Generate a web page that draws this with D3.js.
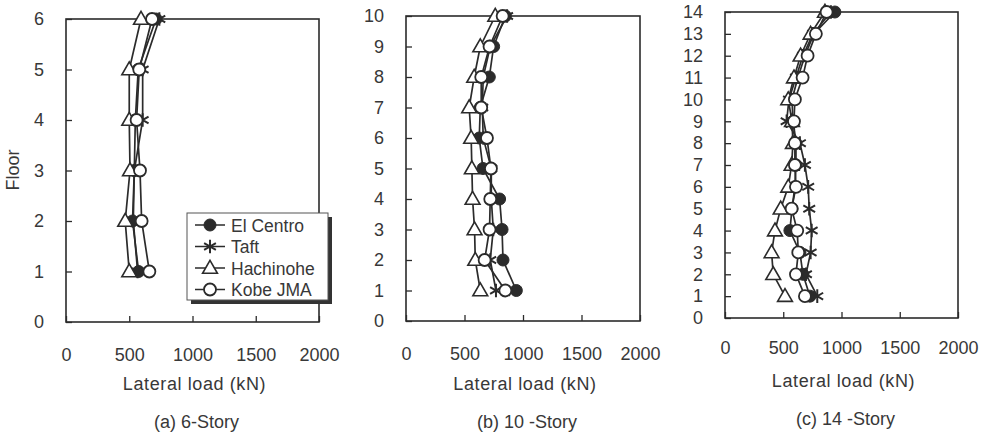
<!DOCTYPE html>
<html>
<head>
<meta charset="utf-8">
<script src="https://cdn.jsdelivr.net/npm/d3@7"></script>
<style>
  body { margin: 0; background: #fff; }
  text { font-family: "Liberation Sans", Arial, sans-serif; fill: #383838; }
</style>
</head>
<body>
<div id="chart"></div>
<script>
// floors and lateral loads (kN)
const floors6 = [1, 2, 3, 4, 5, 6];
const floors10 = [1, 2, 3, 4, 5, 6, 7, 8, 9, 10];
const floors14 = [1, 2, 3, 4, 5, 6, 7, 8, 9, 10, 11, 12, 13, 14];

const a_elCentro  = [574, 526, 540, 548, 571, 712];
const a_taft      = [566, 532, 540, 606, 606, 738];
const a_hachinohe = [500, 468, 506, 500, 500, 593];
const a_kobe      = [659, 598, 585, 558, 579, 680];

const b_elCentro  = [943, 829, 821, 800, 658, 626, 635, 712, 749, 849];
const b_taft      = [769, 720, 746, 729, 729, 660, 652, 660, 720, 864];
const b_hachinohe = [635, 592, 586, 569, 563, 557, 540, 583, 635, 763];
const b_kobe      = [849, 672, 714, 720, 726, 692, 643, 643, 714, 826];

const c_elCentro  = [729, 669, 643, 557, 575, 600, 609, 609, 583, 575, 626, 686, 763, 943];
const c_taft      = [792, 695, 735, 744, 723, 714, 686, 643, 529, 549, 609, 669, 755, 909];
const c_hachinohe = [515, 414, 400, 429, 478, 543, 572, 583, 575, 543, 592, 649, 735, 858];
const c_kobe      = [686, 609, 629, 620, 572, 609, 600, 600, 592, 600, 666, 709, 780, 872];

const seriesNames = ["El Centro", "Taft", "Hachinohe", "Kobe JMA"];
const xTicks = [0, 500, 1000, 1500, 2000];
const captions = ["(a) 6-Story", "(b) 10 -Story", "(c) 14 -Story"];

const ink = "#2b2b2b";
const fs = 18;

const panels = [
  {floors: floors6, series: [a_elCentro, a_taft, a_hachinohe, a_kobe], maxF: 6,
   x0: 66, x1: 319, yTop: 19, yBot: 322, labY: 0, legend: true},
  {floors: floors10, series: [b_elCentro, b_taft, b_hachinohe, b_kobe], maxF: 10,
   x0: 406, x1: 640, yTop: 16, yBot: 321, labY: 0},
  {floors: floors14, series: [c_elCentro, c_taft, c_hachinohe, c_kobe], maxF: 14,
   x0: 725, x1: 958, yTop: 12, yBot: 318, labY: -3}
];

const svg = d3.select("#chart").append("svg")
  .attr("width", 984).attr("height", 436);

function drawMarker(g, i, x, y) {
  if (i === 0) {
    g.append("circle").attr("cx", x).attr("cy", y).attr("r", 6)
      .attr("fill", ink).attr("stroke", ink).attr("stroke-width", 1);
  } else if (i === 1) {
    g.append("path").attr("transform", `translate(${x},${y})`)
      .attr("d", d3.symbol(d3.symbolAsterisk, 130)())
      .attr("fill", "none").attr("stroke", ink).attr("stroke-width", 2);
  } else if (i === 2) {
    g.append("path").attr("transform", `translate(${x},${y + 1})`)
      .attr("d", d3.symbol(d3.symbolTriangle, 95)())
      .attr("fill", "#fff").attr("stroke", ink).attr("stroke-width", 1.6);
  } else {
    g.append("circle").attr("cx", x).attr("cy", y).attr("r", 6)
      .attr("fill", "#fff").attr("stroke", ink).attr("stroke-width", 1.8);
  }
}

panels.forEach((p, pi) => {
  const g = svg.append("g");
  const x = d3.scaleLinear().domain([0, 2000]).range([p.x0, p.x1]);
  const y = d3.scaleLinear().domain([0, p.maxF]).range([p.yBot, p.yTop]);

  // frame
  g.append("rect")
    .attr("x", p.x0).attr("y", p.yTop)
    .attr("width", p.x1 - p.x0).attr("height", p.yBot - p.yTop)
    .attr("fill", "none").attr("stroke", ink).attr("stroke-width", 1.6);

  // x axis, ticks inward
  const xa = g.append("g").attr("transform", `translate(0,${p.yBot})`)
    .call(d3.axisBottom(x).tickValues(xTicks).tickFormat(d3.format("d"))
      .tickSizeInner(-6).tickSizeOuter(0).tickPadding(26 + p.labY));
  xa.select(".domain").remove();
  xa.selectAll("line").attr("stroke", ink).attr("stroke-width", 1.3);
  xa.selectAll("text").attr("font-size", fs).attr("fill", "#383838")
    .attr("font-family", "Liberation Sans, Arial, sans-serif");

  // y axis, ticks inward
  const ya = g.append("g").attr("transform", `translate(${p.x0},0)`)
    .call(d3.axisLeft(y).ticks(p.maxF).tickFormat(d3.format("d"))
      .tickSizeInner(-6).tickSizeOuter(0).tickPadding(22));
  ya.select(".domain").remove();
  ya.selectAll("line").attr("stroke", ink).attr("stroke-width", 1.3);
  ya.selectAll("text").attr("font-size", fs).attr("fill", "#383838")
    .attr("font-family", "Liberation Sans, Arial, sans-serif");

  // series lines
  const line = d3.line().x(d => x(d[0])).y(d => y(d[1]));
  p.series.forEach(vals => {
    const pts = vals.map((v, k) => [v, p.floors[k]]);
    g.append("path").attr("d", line(pts))
      .attr("fill", "none").attr("stroke", ink).attr("stroke-width", 1.7);
  });
  // markers on top
  p.series.forEach((vals, si) => {
    vals.forEach((v, k) => drawMarker(g, si, x(v), y(p.floors[k])));
  });

  const cx = (p.x0 + p.x1) / 2 + 2;
  g.append("text").attr("x", cx).attr("y", 390 + p.labY)
    .attr("text-anchor", "middle").attr("font-size", fs)
    .attr("letter-spacing", 0.6).text("Lateral load (kN)");
  g.append("text").attr("x", cx + 2).attr("y", 428 + p.labY)
    .attr("text-anchor", "middle").attr("font-size", fs).text(captions[pi]);

  if (p.legend) {
    const lx = 187, ly = 213, lw = 141, lh = 87;
    g.append("rect").attr("x", lx + 4).attr("y", ly + 4).attr("width", lw).attr("height", lh)
      .attr("fill", "#333");
    g.append("rect").attr("x", lx).attr("y", ly).attr("width", lw).attr("height", lh)
      .attr("fill", "#fff").attr("stroke", "#555").attr("stroke-width", 1);
    seriesNames.forEach((name, si) => {
      const ry = ly + 12 + si * 21.5;
      g.append("line").attr("x1", lx + 8).attr("x2", lx + 38).attr("y1", ry).attr("y2", ry)
        .attr("stroke", ink).attr("stroke-width", 1.5);
      drawMarker(g, si, lx + 23, ry);
      g.append("text").attr("x", lx + 44).attr("y", ry + 6.5)
        .attr("font-size", 17.5).text(name);
    });
  }
});

svg.append("text")
  .attr("transform", "translate(19,170) rotate(-90)")
  .attr("text-anchor", "middle").attr("font-size", fs).text("Floor");
</script>
</body>
</html>
